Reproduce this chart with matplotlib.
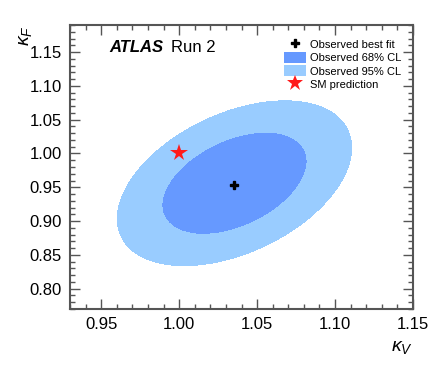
import matplotlib

matplotlib.use("Agg")
import matplotlib.pyplot as plt
import numpy as np
from matplotlib.lines import Line2D
from matplotlib.patches import Patch
from matplotlib.ticker import MultipleLocator

plt.rcParams["font.family"] = ["Liberation Sans", "DejaVu Sans"]
plt.rcParams["mathtext.fontset"] = "custom"
plt.rcParams["mathtext.it"] = "Liberation Sans:italic"
plt.rcParams["mathtext.rm"] = "Liberation Sans"

# best fit and Gaussian approximation of the likelihood
best_fit = [1.035, 0.953]
contour_center = [1.0355, 0.956]
sigma_v = 0.0307
sigma_f = 0.0498
rho = 0.43
cl_levels = [0.0, 2.30, 5.99]          # delta chi2 for 68% and 95% CL in 2D
cl_colors = ["#6699ff", "#99ccff"]
sm_point = [1.0, 1.0]

x_lim = (0.93, 1.15)
y_lim = (0.77, 1.19)

fig = plt.figure(figsize=(4.36, 3.68), dpi=100)
ax = fig.add_axes([0.1606, 0.1603, 0.7866, 0.7717])

kv, kf = np.meshgrid(np.linspace(*x_lim, 600), np.linspace(*y_lim, 600))
dx = (kv - contour_center[0]) / sigma_v
dy = (kf - contour_center[1]) / sigma_f
chi2 = (dx**2 - 2 * rho * dx * dy + dy**2) / (1 - rho**2)
ax.contourf(kv, kf, chi2, levels=cl_levels, colors=cl_colors)

ax.plot(best_fit[0], best_fit[1], marker="P", color="black", markersize=6, linestyle="none")
ax.plot(sm_point[0], sm_point[1], marker="*", color="#ff1a1a", markersize=13, linestyle="none",
        markeredgewidth=0)

ax.set_xlim(*x_lim)
ax.set_ylim(*y_lim)
ax.xaxis.set_major_locator(MultipleLocator(0.05))
ax.xaxis.set_minor_locator(MultipleLocator(0.01))
ax.yaxis.set_major_locator(MultipleLocator(0.05))
ax.yaxis.set_minor_locator(MultipleLocator(0.01))
ax.xaxis.set_major_formatter(plt.FormatStrFormatter("%.2f"))
ax.yaxis.set_major_formatter(plt.FormatStrFormatter("%.2f"))
ax.tick_params(which="both", direction="in", top=True, right=True, color="#555555",
               labelsize=12, width=1.0)
ax.tick_params(which="major", length=7, pad=6)
ax.tick_params(which="minor", length=3.5)
for spine in ax.spines.values():
    spine.set_color("#555555")
    spine.set_linewidth(1.5)

fig.text(26 / 436, 1 - 25 / 368, r"$\kappa_F$", rotation=90, ha="center", va="top", fontsize=14)
fig.text(413 / 436, 1 - 356 / 368, r"$\kappa_V$", ha="right", va="bottom", fontsize=14)

ax.text(0.115, 0.905, "ATLAS", transform=ax.transAxes, fontsize=12, fontweight="bold",
        fontstyle="italic", va="baseline")
ax.text(0.295, 0.905, "Run 2", transform=ax.transAxes, fontsize=12, va="baseline")

handles = [
    Line2D([], [], marker="P", color="black", markersize=6, linestyle="none"),
    Patch(facecolor=cl_colors[0], edgecolor="none"),
    Patch(facecolor=cl_colors[1], edgecolor="none"),
    Line2D([], [], marker="*", color="#ff1a1a", markersize=12, linestyle="none", markeredgewidth=0),
]
labels = ["Observed best fit", "Observed 68% CL", "Observed 95% CL", "SM prediction"]
ax.legend(handles, labels, loc="upper right", bbox_to_anchor=(0.985, 0.975), frameon=False,
          fontsize=8, handlelength=2.0, handleheight=1.1, handletextpad=0.35,
          labelspacing=0.2, borderaxespad=0.2)

fig.savefig("out.png", dpi=100)
plt.close(fig)
